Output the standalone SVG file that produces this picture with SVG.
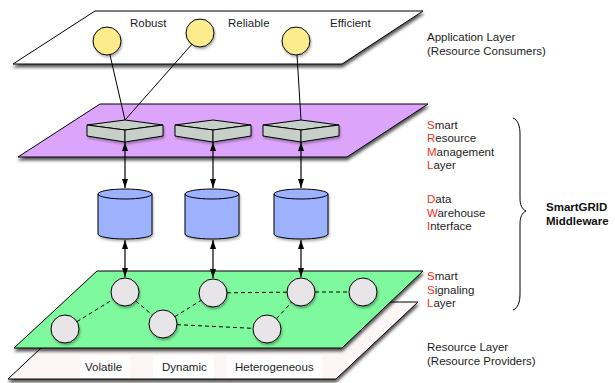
<svg xmlns="http://www.w3.org/2000/svg" width="615" height="383" viewBox="0 0 615 383">
  <defs>
    <filter id="planeShadow" x="-10%" y="-20%" width="130%" height="160%">
      <feDropShadow dx="0.5" dy="3" stdDeviation="1.5" flood-color="#000" flood-opacity="0.65"/>
    </filter>
    <filter id="softShadow" x="-20%" y="-20%" width="150%" height="160%">
      <feDropShadow dx="1" dy="2" stdDeviation="1" flood-color="#000" flood-opacity="0.3"/>
    </filter>
    <marker id="head" viewBox="0 0 9 6" refX="9" refY="3" markerWidth="9" markerHeight="6" markerUnits="userSpaceOnUse" orient="auto-start-reverse">
      <path d="M0,0 L9,3 L0,6 Z" fill="#000"/>
    </marker>
    <g id="cyl">
      <path d="M-27,0 v40 a27,5 0 0 0 54,0 v-40 a27,5 0 0 0 -54,0 Z" class="cylBody"/>
      <path d="M-27,0 a27,5 0 0 0 54,0" fill="none" stroke="#000" stroke-width="1"/>
    </g>
    <g id="box">
      <path d="M-38,5 L0,0 L38,5 L0,10 Z" class="boxFace"/>
      <path d="M-38,5 L0,10 L0,22 L-38,16 Z" class="boxFace"/>
      <path d="M0,10 L38,5 L38,16 L0,22 Z" class="boxFace"/>
    </g>
  </defs>
  <style>
    .plane { stroke: #000; stroke-width: 1; filter: url(#planeShadow); }
    .lbl { font-family: "Liberation Sans", Arial, sans-serif; font-size: 11.5px; fill: #1e1e1e; }
    .bold { font-weight: bold; fill: #111; }
    .red { fill: #f2301a; }
    .cylBody { fill: #9db1fd; stroke: #000; stroke-width: 1; }
    .boxFace { fill: #c6d0c9; stroke: #000; stroke-width: 1; stroke-linejoin: round; }
    .yellow { fill: #fdeb8c; stroke: #000; stroke-width: 1; }
    .peer { fill: #e7e5e7; stroke: #000; stroke-width: 1; }
    .link { stroke: #000; stroke-width: 1; fill: none; }
    .dash { stroke: #000; stroke-width: 1; stroke-dasharray: 4 3; fill: none; }
    .arrow { stroke: #000; stroke-width: 1.2; marker-start: url(#head); marker-end: url(#head); }
    .tagBg { fill: #ffffff; }
  </style>

  <!-- Resource layer (bottom) -->
  <g id="resource-layer">
    <polygon class="plane" points="90,302 418,302 336,379 8,379" fill="#fcf6f6"/>
    <rect class="tagBg" x="80" y="355" width="50" height="23"/>
    <rect class="tagBg" x="153" y="355" width="61" height="23"/>
    <rect class="tagBg" x="227" y="355" width="95" height="23"/>
    <text class="lbl" x="85" y="371">Volatile</text>
    <text class="lbl" x="162" y="371">Dynamic</text>
    <text class="lbl" x="235" y="371">Heterogeneous</text>
  </g>

  <!-- Smart signaling layer -->
  <g id="signaling-layer">
    <polygon class="plane" points="97,271 423,271 342,348 14,348" fill="#7ef99d"/>
  </g>

  <!-- Smart resource management layer -->
  <g id="management-layer">
    <polygon class="plane" points="100,104 428,104 347,157 18,157" fill="#dca4fb"/>
  </g>

  <!-- Application layer (top) -->
  <g id="application-layer">
    <polygon class="plane" points="95,11 423,11 342,64 13,64" fill="#ffffff"/>
    <text class="lbl" x="130" y="27">Robust</text>
    <text class="lbl" x="228" y="27">Reliable</text>
    <text class="lbl" x="330" y="27">Efficient</text>
  </g>

  <!-- Connectors -->
  <g id="connectors">
    <line class="link" x1="110" y1="55" x2="125" y2="120"/>
    <line class="link" x1="193" y1="43" x2="125" y2="120"/>
    <line class="link" x1="297" y1="55" x2="301" y2="120"/>

    <line class="arrow" x1="125" y1="142" x2="125" y2="188"/>
    <line class="arrow" x1="213" y1="142" x2="213" y2="188"/>
    <line class="arrow" x1="301" y1="142" x2="301" y2="188"/>

    <line class="arrow" x1="125" y1="240" x2="125" y2="277"/>
    <line class="arrow" x1="213" y1="240" x2="213" y2="278"/>
    <line class="arrow" x1="301" y1="240" x2="301" y2="277"/>

    <line class="dash" x1="65" y1="329" x2="125" y2="292"/>
    <line class="dash" x1="125" y1="292" x2="163" y2="324"/>
    <line class="dash" x1="163" y1="324" x2="213" y2="293"/>
    <line class="dash" x1="213" y1="293" x2="301" y2="292"/>
    <line class="dash" x1="301" y1="292" x2="363" y2="292"/>
    <line class="dash" x1="163" y1="324" x2="267" y2="329"/>
    <line class="dash" x1="267" y1="329" x2="301" y2="292"/>
  </g>

  <!-- Application consumers -->
  <g id="robust" filter="url(#softShadow)"><circle class="yellow" cx="107" cy="41" r="14"/></g>
  <g id="reliable" filter="url(#softShadow)"><circle class="yellow" cx="200" cy="33" r="14"/></g>
  <g id="efficient" filter="url(#softShadow)"><circle class="yellow" cx="296" cy="41" r="14"/></g>

  <!-- Resource managers -->
  <g id="manager-1" filter="url(#softShadow)"><use href="#box" x="125" y="120"/></g>
  <g id="manager-2" filter="url(#softShadow)"><use href="#box" x="213" y="120"/></g>
  <g id="manager-3" filter="url(#softShadow)"><use href="#box" x="301" y="120"/></g>

  <!-- Data warehouses -->
  <g id="warehouse-1" filter="url(#softShadow)"><use href="#cyl" x="125" y="194"/></g>
  <g id="warehouse-2" filter="url(#softShadow)"><use href="#cyl" x="212" y="194"/></g>
  <g id="warehouse-3" filter="url(#softShadow)"><use href="#cyl" x="301" y="194"/></g>

  <!-- Signaling peers -->
  <g id="peer-1" filter="url(#softShadow)"><circle class="peer" cx="125" cy="292" r="14"/></g>
  <g id="peer-2" filter="url(#softShadow)"><circle class="peer" cx="213" cy="293" r="14"/></g>
  <g id="peer-3" filter="url(#softShadow)"><circle class="peer" cx="301" cy="292" r="14"/></g>
  <g id="peer-4" filter="url(#softShadow)"><circle class="peer" cx="363" cy="292" r="14"/></g>
  <g id="peer-5" filter="url(#softShadow)"><circle class="peer" cx="65" cy="329" r="14"/></g>
  <g id="peer-6" filter="url(#softShadow)"><circle class="peer" cx="163" cy="324" r="14"/></g>
  <g id="peer-7" filter="url(#softShadow)"><circle class="peer" cx="267" cy="329" r="14"/></g>

  <!-- Layer captions -->
  <g id="captions">
    <text class="lbl" x="427" y="41">Application Layer</text>
    <text class="lbl" x="427" y="55">(Resource Consumers)</text>

    <text class="lbl" x="427" y="129"><tspan class="red">S</tspan>mart</text>
    <text class="lbl" x="427" y="142"><tspan class="red">R</tspan>esource</text>
    <text class="lbl" x="427" y="156"><tspan class="red">M</tspan>anagement</text>
    <text class="lbl" x="427" y="169"><tspan class="red">L</tspan>ayer</text>

    <text class="lbl" x="427" y="203"><tspan class="red">D</tspan>ata</text>
    <text class="lbl" x="427" y="217"><tspan class="red">W</tspan>arehouse</text>
    <text class="lbl" x="427" y="230"><tspan class="red">I</tspan>nterface</text>

    <text class="lbl" x="427" y="280"><tspan class="red">S</tspan>mart</text>
    <text class="lbl" x="427" y="294"><tspan class="red">S</tspan>ignaling</text>
    <text class="lbl" x="427" y="307"><tspan class="red">L</tspan>ayer</text>

    <text class="lbl" x="427" y="351">Resource Layer</text>
    <text class="lbl" x="427" y="365">(Resource Providers)</text>
  </g>

  <!-- Middleware brace -->
  <g id="middleware">
    <path d="M513,118 C518,120 520,126 520,134 L520,198 C520,205 522,209 526,211 C522,213 520,217 520,224 L520,294 C520,302 518,308 513,310" fill="none" stroke="#000" stroke-width="1"/>
    <text class="lbl bold" x="546" y="211">SmartGRID</text>
    <text class="lbl bold" x="546" y="225">Middleware</text>
  </g>
</svg>
